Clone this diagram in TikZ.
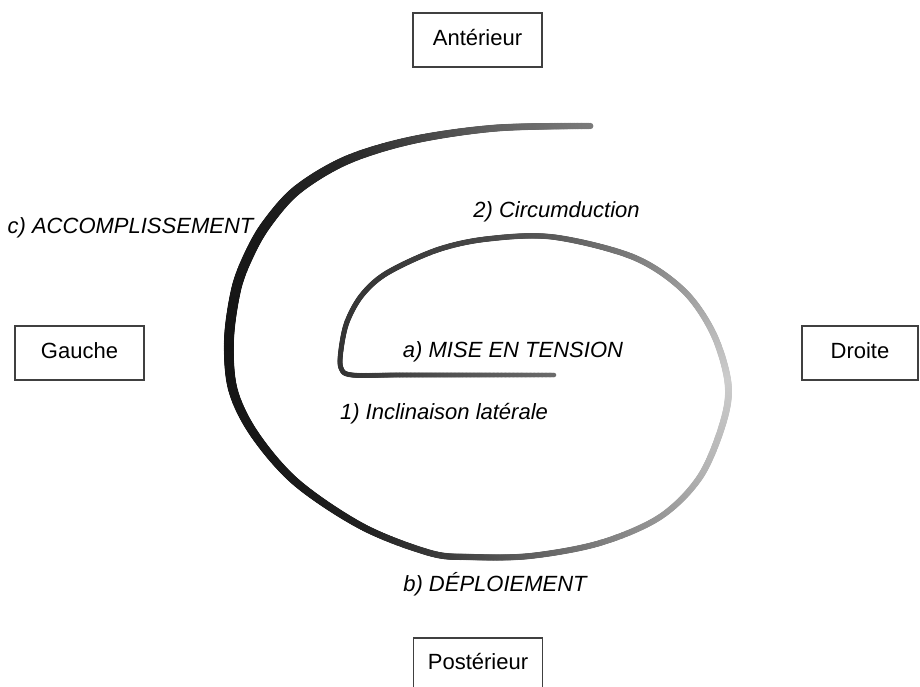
\documentclass[tikz,border=0pt]{standalone}
\usepackage{fontspec}
\setmainfont{Liberation Sans}
\usetikzlibrary{decorations.markings}
\newif\ifknotdone
\def\knotlist{0.054/0.32/4.8, 0.11/0.20/5, 0.167/0.22/5.5, 0.224/0.28/5.5, 0.258/0.35/5.5, 0.30/0.48/6, 0.332/0.60/6, 0.36/0.72/6.5, 0.386/0.80/7, 0.437/0.70/6.5, 0.466/0.60/6, 0.50/0.50/6, 0.537/0.38/6, 0.59/0.22/6.5, 0.627/0.13/7, 0.667/0.10/8, 0.752/0.08/10, 0.815/0.10/10, 0.87/0.15/9, 0.905/0.25/8, 0.95/0.38/7, 1.01/0.50/6}
\newcommand\strokedot{%
  \pgfmathsetmacro\myf{\pgfkeysvalueof{/pgf/decoration/mark info/distance from start}/\pgfdecoratedpathlength}%
  \global\knotdonefalse
  \gdef\kpf{0}\gdef\kpg{0.42}\gdef\kpw{4.5}%
  \gdef\curg{0.5}\gdef\curw{6}%
  \foreach \kf/\kg/\kw in \knotlist {%
    \ifknotdone\else
      \ifdim\myf pt<\kf pt
        \pgfmathsetmacro\kt{(\myf-\kpf)/(\kf-\kpf)}%
        \pgfmathsetmacro\kcg{\kpg+(\kg-\kpg)*\kt}%
        \pgfmathsetmacro\kcw{\kpw+(\kw-\kpw)*\kt}%
        \xdef\curg{\kcg}\xdef\curw{\kcw}%
        \global\knotdonetrue
      \else
        \xdef\kpf{\kf}\xdef\kpg{\kg}\xdef\kpw{\kw}%
      \fi
    \fi
  }%
  \definecolor{strokecol}{gray}{\curg}%
  \fill[strokecol] (0,0) circle[radius=\curw*0.5pt];
}
\newcommand\boxfont{\fontsize{22}{26}\selectfont}
\newcommand\lblfont{\fontsize{22}{26}\selectfont\itshape}
\tikzset{
  box/.style={draw=black!75, line width=1.3pt, minimum width=129pt, minimum height=54pt,
    text height=16pt, text depth=5pt, inner sep=0pt, font=\boxfont},
  lbl/.style={anchor=base, font=\lblfont, inner sep=0pt},
  gradstroke/.style={decorate, decoration={markings,
    mark=between positions 0 and 1 step 0.8pt with {\strokedot}}}
}
\begin{document}
\begin{tikzpicture}[x=1pt, y=-1pt]
\useasboundingbox (0,0) rectangle (920,687);
\fill[white] (0,0) rectangle (920,687);
\clip (0,0) rectangle (920,687);
% spiral
\path[gradstroke] plot[smooth, tension=0.55] coordinates {
  (554,375) (480,375) (400,375) (352,375) (341,368) (341,350) (347,322) (362,295)
  (387,273) (437,250) (487,239) (553,237) (633,257) (683,290) (713,333) (728,383)
  (723,423) (700,477) (660,517) (600,543) (530,556) (470,557) (430,553) (363,527)
  (297,483) (255,435) (233,390) (229,340) (236,290) (248,257) (266,225) (297,190)
  (347,160) (413,140) (497,128) (591,126)};
% boxes
\node[box] (ant) at (477.5,40) {Antérieur};
\node[box] (gau) at (79.5,353) {Gauche};
\node[box, minimum width=116pt] (dro) at (860,353) {Droite};
\node[box, minimum height=52pt] (pos) at (478,664) {Postérieur};
% labels
\node[lbl] (lc) at (130.5,233) {c) ACCOMPLISSEMENT};
\node[lbl] (l2) at (556.5,217) {2) Circumduction};
\node[lbl] (la) at (513,357.5) {a) MISE EN TENSION};
\node[lbl] (l1) at (444,419) {1) Inclinaison latérale};
\node[lbl] (lb) at (495,591) {b) DÉPLOIEMENT};
\end{tikzpicture}
\end{document}
